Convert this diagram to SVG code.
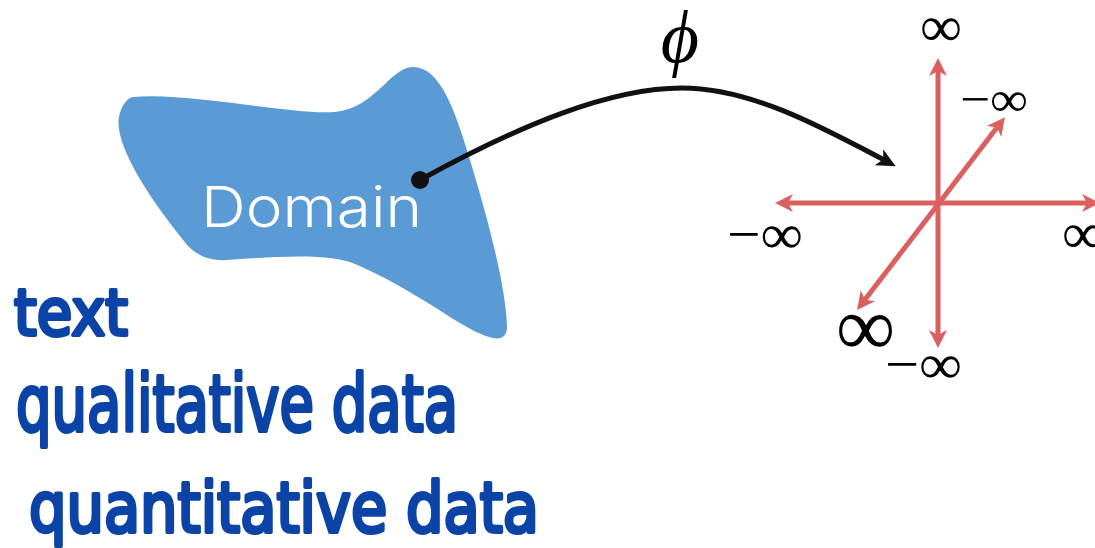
<svg xmlns="http://www.w3.org/2000/svg" width="1095" height="548" viewBox="0 0 1095 548">
  <style>
    .math { font-family: "Liberation Serif", "DejaVu Serif", serif; fill: #000; }
    .axis { stroke: #d9605f; stroke-width: 5; fill: none; marker-start: url(#redHead); marker-end: url(#redHead); }
    .hand { font-family: "DejaVu Sans", "Liberation Sans", sans-serif; fill: #0b44a6; stroke: #0b44a6; stroke-width: 4; stroke-linejoin: round; stroke-linecap: round; }
  </style>
  <defs>
    <marker id="redHead" markerUnits="userSpaceOnUse" viewBox="0 -10 20 20" markerWidth="20" markerHeight="20" refX="8" refY="0" orient="auto-start-reverse">
      <path d="M0,-9 L18,0 L0,9 L5,0 Z" fill="#d9605f"/>
    </marker>
    <marker id="blackHead" markerUnits="userSpaceOnUse" viewBox="0 -10 22 20" markerWidth="22" markerHeight="20" refX="8" refY="0" orient="auto">
      <path d="M0,-9 L19,0 L0,9 L5,0 Z" fill="#111"/>
    </marker>
  </defs>

  <rect width="1095" height="548" fill="#fff"/>

  <!-- domain blob -->
  <g id="domain">
    <path d="M133,97 C190,92 290,115 335,112 C375,108 390,68 412,67 C440,66 455,110 470,160 C485,210 505,280 507,325 C508,345 490,340 467,327 C440,312 400,282 350,262 C320,252 260,258 227,260 C210,261 198,256 188,246 C150,200 110,140 120,113 C123,103 128,98 133,97 Z" fill="#5b9bd5"/>
    <text x="201" y="227" font-family="Inter, Lato, Liberation Sans, sans-serif" font-weight="300" font-size="56" fill="#fff" textLength="221" lengthAdjust="spacingAndGlyphs">Domain</text>
  </g>

  <!-- map phi: domain to the space -->
  <g id="connectors">
    <path d="M420,180 C520,125 610,88 682,88 C750,88 820,126 886,161" fill="none" stroke="#111" stroke-width="5" marker-end="url(#blackHead)"/>
    <circle cx="420" cy="180" r="9" fill="#111"/>
  </g>
  <g id="phi-label">
    <text class="math" x="680" y="62" font-size="74" font-style="italic" text-anchor="middle">ϕ</text>
  </g>

  <!-- three-axis space -->
  <g id="space">
    <line class="axis" x1="938" y1="68" x2="938" y2="338"/>
    <line class="axis" x1="785" y1="203" x2="1090" y2="203"/>
    <line class="axis" x1="863.1" y1="302.1" x2="998.9" y2="125.1"/>
    <text class="math" x="920" y="46" font-size="58" textLength="42" lengthAdjust="spacingAndGlyphs">∞</text>
    <text class="math" x="960" y="116" font-size="50" textLength="68" lengthAdjust="spacingAndGlyphs">−∞</text>
    <text class="math" x="727" y="253" font-size="56" textLength="76" lengthAdjust="spacingAndGlyphs">−∞</text>
    <text class="math" x="1062" y="253" font-size="58" textLength="42" lengthAdjust="spacingAndGlyphs">∞</text>
    <text class="math" x="836" y="355" font-size="84" textLength="59" lengthAdjust="spacingAndGlyphs">∞</text>
    <text class="math" x="885" y="383" font-size="56" textLength="77" lengthAdjust="spacingAndGlyphs">−∞</text>
  </g>

  <!-- handwritten notes -->
  <g id="notes">
    <text class="hand" x="14" y="335" font-size="64" textLength="114" lengthAdjust="spacingAndGlyphs">text</text>
    <text class="hand" x="16" y="431" font-size="78" textLength="442" lengthAdjust="spacingAndGlyphs">qualitative data</text>
    <text class="hand" x="29" y="532" font-size="70" textLength="510" lengthAdjust="spacingAndGlyphs">quantitative data</text>
  </g>
</svg>
